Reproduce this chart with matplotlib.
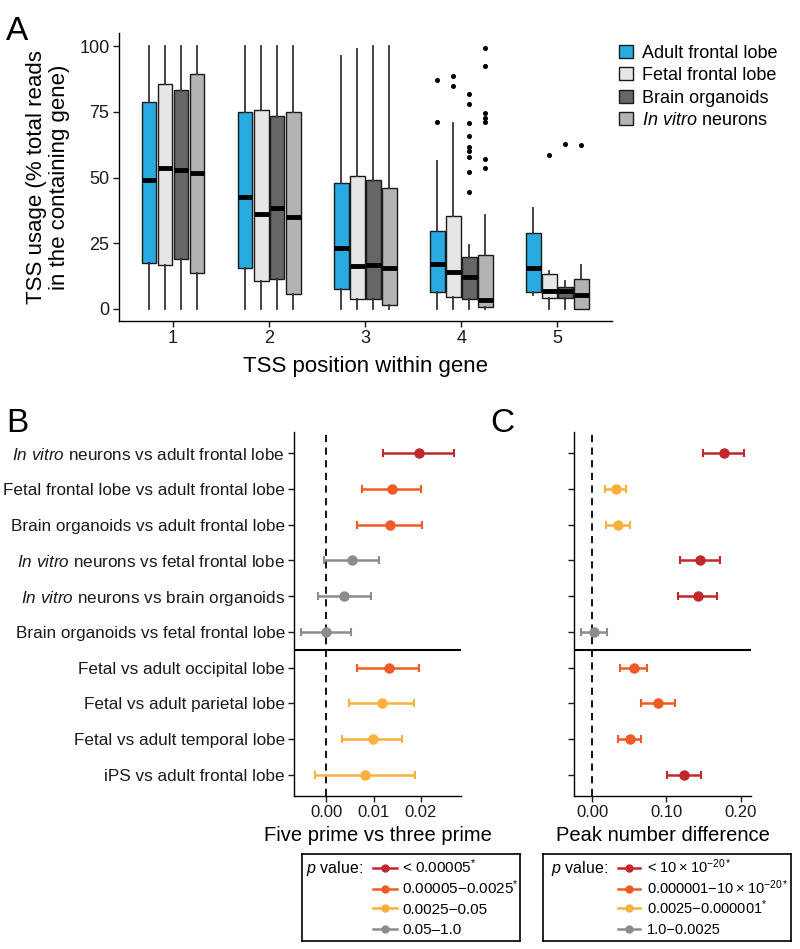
import numpy as np
import matplotlib
matplotlib.use('Agg')
import matplotlib.pyplot as plt
from matplotlib import rcParams
from matplotlib.patches import Patch
from matplotlib.lines import Line2D

rcParams['font.family'] = 'Liberation Sans'
rcParams['mathtext.fontset'] = 'custom'
rcParams['mathtext.rm'] = 'Liberation Sans'
rcParams['mathtext.it'] = 'Liberation Sans:italic'
rcParams['axes.linewidth'] = 1.0

# ---- panel A: TSS usage per position (box stats)
positions = [1, 2, 3, 4, 5]
tissues = ['Adult frontal lobe', 'Fetal frontal lobe', 'Brain organoids', r'$\mathit{In\ vitro}$ neurons']
tissue_colors = ['#29ABE2', '#E6E6E6', '#666666', '#B3B3B3']

adult_med = [48.9, 42.5, 23.2, 17.0, 15.7]
adult_q1 = [17.6, 15.7, 7.5, 6.5, 6.3]
adult_q3 = [78.8, 74.9, 47.8, 29.7, 29.0]
adult_wlo = [0, 0, 0, 0, 5.3]
adult_whi = [100, 100, 96.4, 56.4, 38.3]
adult_out = [[], [], [], [71.2, 87.1], []]

fetal_med = [53.7, 36.2, 16.1, 13.8, 6.6]
fetal_q1 = [16.6, 10.4, 3.7, 4.4, 4.1]
fetal_q3 = [85.8, 75.8, 50.6, 35.4, 13.1]
fetal_wlo = [0, 0, 0, 0, 0]
fetal_whi = [100, 100, 99.0, 70.8, 14.2]
fetal_out = [[], [], [], [84.8, 88.6], [58.6]]

organoid_med = [52.9, 38.5, 16.5, 11.9, 6.8]
organoid_q1 = [18.9, 11.5, 3.8, 3.8, 4.1]
organoid_q3 = [83.3, 73.5, 49.0, 19.8, 8.2]
organoid_wlo = [0, 0, 0, 0, 0]
organoid_whi = [100, 100, 100, 24.1, 10.4]
organoid_out = [[], [], [], [81.7, 77.9, 70.8, 65.8, 61.5, 60.2, 57.9, 52.0, 44.4], [62.7]]

invitro_med = [51.6, 35.1, 15.5, 3.4, 5.3]
invitro_q1 = [13.6, 5.6, 1.5, 0.6, 0.0]
invitro_q3 = [89.4, 74.9, 46.1, 20.4, 11.5]
invitro_wlo = [0, 0, 0, 0, 0]
invitro_whi = [100, 100, 100, 35.7, 16.7]
invitro_out = [[], [], [], [99.4, 92.4, 74.4, 72.5, 71.2, 56.9, 53.5], [62.4]]

box_sets = [
    (adult_med, adult_q1, adult_q3, adult_wlo, adult_whi, adult_out),
    (fetal_med, fetal_q1, fetal_q3, fetal_wlo, fetal_whi, fetal_out),
    (organoid_med, organoid_q1, organoid_q3, organoid_wlo, organoid_whi, organoid_out),
    (invitro_med, invitro_q1, invitro_q3, invitro_wlo, invitro_whi, invitro_out),
]

# ---- panels B and C: comparisons
comparisons = [
    r'$\mathit{In\ vitro}$ neurons vs adult frontal lobe',
    'Fetal frontal lobe vs adult frontal lobe',
    'Brain organoids vs adult frontal lobe',
    r'$\mathit{In\ vitro}$ neurons vs fetal frontal lobe',
    r'$\mathit{In\ vitro}$ neurons vs brain organoids',
    'Brain organoids vs fetal frontal lobe',
    'Fetal vs adult occipital lobe',
    'Fetal vs adult parietal lobe',
    'Fetal vs adult temporal lobe',
    'iPS vs adult frontal lobe',
]
five_est = [0.0197, 0.0139, 0.0135, 0.0054, 0.0038, 0.0000, 0.0133, 0.0119, 0.0098, 0.0082]
five_lo = [0.0121, 0.0075, 0.0066, -0.0005, -0.0017, -0.0054, 0.0066, 0.0048, 0.0034, -0.0024]
five_hi = [0.0271, 0.0200, 0.0202, 0.0112, 0.0094, 0.0052, 0.0197, 0.0186, 0.0161, 0.0187]
five_p = [0, 1, 1, 3, 3, 3, 1, 2, 2, 2]

peak_est = [0.1767, 0.0323, 0.0354, 0.1448, 0.1417, 0.0027, 0.0565, 0.0888, 0.0511, 0.1238]
peak_lo = [0.1493, 0.0175, 0.0184, 0.1179, 0.1157, -0.0143, 0.0381, 0.0659, 0.0350, 0.1004]
peak_hi = [0.2036, 0.0462, 0.0516, 0.1713, 0.1673, 0.0206, 0.0735, 0.1112, 0.0664, 0.1466]
peak_p = [0, 2, 2, 0, 0, 3, 1, 1, 1, 0]

p_colors = ['#C1272D', '#F15A24', '#FBB03B', '#8C8C8C']
five_p_labels = ['< 0.00005$^{*}$', '0.00005\u22120.0025$^{*}$', '0.0025\u22120.05', '0.05\u20131.0']
peak_p_labels = ['< 10\u2009\u00d7\u200910$^{-20*}$', '0.000001\u221210\u2009\u00d7\u200910$^{-20*}$',
                 '0.0025\u22120.000001$^{*}$', '1.0\u22120.0025']

fig = plt.figure(figsize=(8, 9.49), dpi=100)

# ================= A
axA = fig.add_axes([0.149, 0.662, 0.616, 0.303])
offsets = [-0.25, -0.083, 0.083, 0.25]
for k, (med, q1, q3, wlo, whi, out) in enumerate(box_sets):
    stats = []
    for i in range(len(positions)):
        stats.append({'med': med[i], 'q1': q1[i], 'q3': q3[i], 'whislo': wlo[i],
                      'whishi': whi[i], 'fliers': out[i]})
    axA.bxp(stats, positions=[p + offsets[k] for p in positions], widths=0.155,
            patch_artist=True, showcaps=False, manage_ticks=False,
            boxprops=dict(facecolor=tissue_colors[k], edgecolor='#1a1a1a', linewidth=1.0),
            whiskerprops=dict(color='#333333', linewidth=1.3),
            medianprops=dict(color='black', linewidth=3.5, solid_capstyle='butt'),
            flierprops=dict(marker='o', markersize=2.6, markerfacecolor='black',
                            markeredgecolor='black', linestyle='none'))
axA.set_xlim(0.44, 5.57)
axA.set_ylim(-4.6, 105)
axA.set_xticks(positions)
axA.set_yticks([0, 25, 50, 75, 100])
axA.spines['top'].set_visible(False)
axA.spines['right'].set_visible(False)
axA.tick_params(axis='both', labelsize=13, length=4, width=1.0, pad=3, colors='#1a1a1a')
axA.set_xlabel('TSS position within gene', fontsize=16, labelpad=6)
axA.set_ylabel('TSS usage (% total reads\nin the containing gene)', fontsize=16, labelpad=7,
               linespacing=1.1)
handles = [Patch(facecolor=c, edgecolor='#1a1a1a', linewidth=1.0) for c in tissue_colors]
axA.legend(handles, tissues, loc='upper left', bbox_to_anchor=(0.754, 0.97),
           bbox_transform=fig.transFigure, frameon=False, fontsize=13,
           handlelength=0.75, handleheight=0.75, labelspacing=0.3, handletextpad=0.5)

fig.text(0.008, 0.958, 'A', fontsize=24)
fig.text(0.008, 0.545, 'B', fontsize=24)
fig.text(0.613, 0.545, 'C', fontsize=24)

# ================= B and C
ypos = np.arange(len(comparisons), 0, -1)


def forest(ax, est, lo, hi, pcls, xlim, xticks, xticklabels, xlabel):
    ax.axvline(0, color='black', linewidth=1.3, linestyle=(0, (4, 3)), zorder=1)
    ax.axhline(4.5, color='black', linewidth=1.5, zorder=1)
    for i in range(len(est)):
        c = p_colors[pcls[i]]
        ax.errorbar(est[i], ypos[i], xerr=[[est[i] - lo[i]], [hi[i] - est[i]]],
                    fmt='o', color=c, ecolor=c, markersize=6.5, elinewidth=1.8,
                    capsize=3, capthick=1.5, zorder=3)
    ax.set_xlim(*xlim)
    ax.set_ylim(0.4, 10.6)
    ax.set_yticks(ypos)
    ax.set_xticks(xticks)
    ax.set_xticklabels(xticklabels)
    ax.spines['top'].set_visible(False)
    ax.spines['right'].set_visible(False)
    ax.tick_params(axis='both', length=4.5, width=1.0, colors='#1a1a1a')
    ax.tick_params(axis='x', labelsize=12, pad=2)
    ax.set_xlabel(xlabel, fontsize=14.5, labelpad=4)


axB = fig.add_axes([0.3675, 0.1612, 0.2088, 0.3836])
forest(axB, five_est, five_lo, five_hi, five_p, (-0.00684, 0.02854),
       [0, 0.01, 0.02], ['0.00', '0.01', '0.02'], 'Five prime vs three prime')
axB.set_yticklabels(comparisons, fontsize=12.3)
axB.tick_params(axis='y', pad=2)

axC = fig.add_axes([0.7175, 0.1612, 0.2213, 0.3836])
forest(axC, peak_est, peak_lo, peak_hi, peak_p, (-0.0242, 0.2136),
       [0, 0.1, 0.2], ['0.00', '0.10', '0.20'], 'Peak number difference')
axC.set_yticklabels([])

# p-value keys, drawn by hand in a framed box so rows stay evenly spaced
key_rows = [0.839, 0.598, 0.379, 0.138]


def p_legend(rect, labels, px, hx0, hx1, tx, fs):
    lax = fig.add_axes(rect)
    lax.set_xlim(0, 1)
    lax.set_ylim(0, 1)
    lax.set_xticks([])
    lax.set_yticks([])
    for s in lax.spines.values():
        s.set_linewidth(1.2)
    drop = 0.064
    lax.text(px, key_rows[0] - drop, '$p$ value:', fontsize=11.5, va='baseline', ha='left')
    for c, lab, yr in zip(p_colors, labels, key_rows):
        lax.add_line(Line2D([hx0, hx1], [yr, yr], color=c, linewidth=1.8))
        lax.add_line(Line2D([(hx0 + hx1) / 2], [yr], color=c, marker='o', markersize=5))
        lax.text(tx, yr - drop, lab, fontsize=fs, va='baseline', ha='left')
    return lax


p_legend([0.3775, 0.0085, 0.2725, 0.0917], five_p_labels, 0.018, 0.326, 0.436, 0.459, 11)
p_legend([0.679, 0.0085, 0.31, 0.0917], peak_p_labels, 0.032, 0.302, 0.391, 0.419, 10.5)

fig.savefig('out.png', dpi=100)
